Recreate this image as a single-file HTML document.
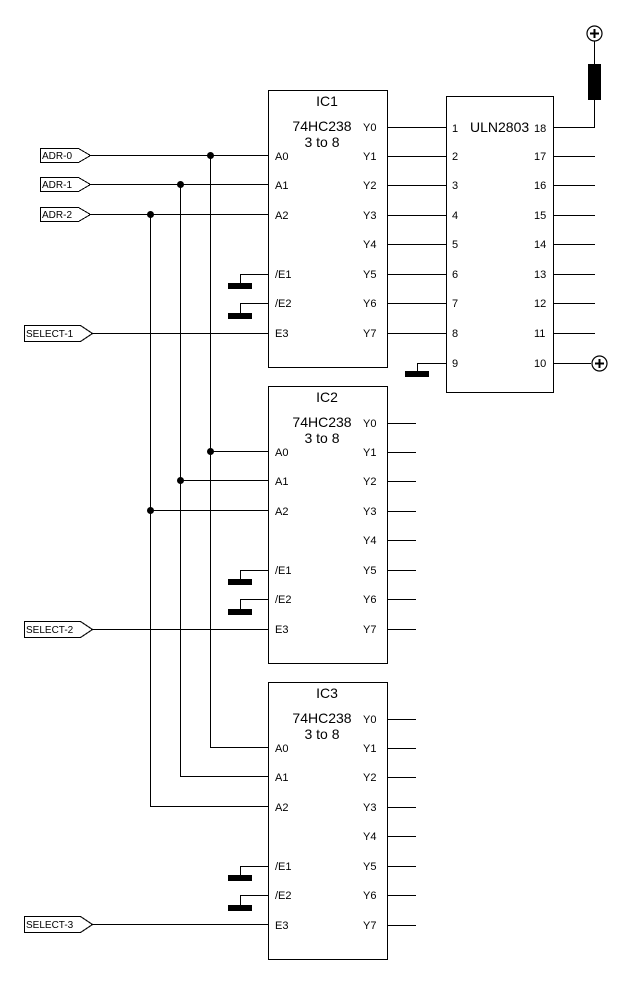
<!DOCTYPE html>
<html><head><meta charset="utf-8"><style>
html,body{margin:0;padding:0;background:#fff;}
svg{display:block;}
text{font-family:"Liberation Sans",Arial,sans-serif;fill:#000;}
</style></head><body>
<svg width="631" height="982" viewBox="0 0 631 982" xmlns="http://www.w3.org/2000/svg">
<g stroke="#000" stroke-width="1" fill="none" shape-rendering="crispEdges">
<!-- vertical bus lines -->
<line x1="210.5" y1="155" x2="210.5" y2="747.5"/>
<line x1="180.5" y1="185" x2="180.5" y2="776.5"/>
<line x1="150.5" y1="214" x2="150.5" y2="806.5"/>
<line x1="210" y1="747.5" x2="268" y2="747.5"/>
<line x1="180" y1="776.5" x2="268" y2="776.5"/>
<line x1="150" y1="806.5" x2="268" y2="806.5"/>
<!-- IC1 inputs -->
<line x1="90" y1="155.5" x2="268" y2="155.5"/>
<line x1="90" y1="184.5" x2="268" y2="184.5"/>
<line x1="90" y1="214.5" x2="268" y2="214.5"/>
<line x1="92" y1="333.5" x2="268" y2="333.5"/>
<!-- IC2 inputs -->
<line x1="210" y1="451.5" x2="268" y2="451.5"/>
<line x1="180" y1="480.5" x2="268" y2="480.5"/>
<line x1="150" y1="510.5" x2="268" y2="510.5"/>
<line x1="92" y1="629.5" x2="268" y2="629.5"/>
<!-- IC3 select -->
<line x1="92" y1="924.5" x2="268" y2="924.5"/>
</g>
<g fill="#000">
<circle cx="210.5" cy="155.5" r="3.5"/><circle cx="180.5" cy="184.5" r="3.5"/><circle cx="150.5" cy="214.5" r="3.5"/>
<circle cx="210.5" cy="451.5" r="3.5"/><circle cx="180.5" cy="480.5" r="3.5"/><circle cx="150.5" cy="510.5" r="3.5"/>
</g>
<!-- labels -->
<g stroke="#000" stroke-width="1" fill="#fff" shape-rendering="crispEdges">
<polygon points="40.5,148.5 78.5,148.5 90.5,155.5 78.5,162.5 40.5,162.5"/>
<polygon points="40.5,177.5 78.5,177.5 90.5,184.5 78.5,191.5 40.5,191.5"/>
<polygon points="40.5,207.5 78.5,207.5 90.5,214.5 78.5,221.5 40.5,221.5"/>
<polygon points="24.5,325.5 80.5,325.5 92.5,333.5 80.5,341.5 24.5,341.5"/>
<polygon points="24.5,621.5 80.5,621.5 92.5,629.5 80.5,637.5 24.5,637.5"/>
<polygon points="24.5,916.5 80.5,916.5 92.5,924.5 80.5,932.5 24.5,932.5"/>
</g>
<g font-size="10">
<text x="42" y="159">ADR-0</text>
<text x="42" y="188">ADR-1</text>
<text x="42" y="218">ADR-2</text>
<text x="26" y="337">SELECT-1</text>
<text x="26" y="633">SELECT-2</text>
<text x="26" y="928">SELECT-3</text>
</g>

<!-- IC template x3 -->
<g id="ic1">
<g stroke="#000" fill="none" shape-rendering="crispEdges">
<rect x="268.5" y="90.5" width="119" height="277"/>
<line x1="268" y1="274.5" x2="240.5" y2="274.5"/><line x1="240.5" y1="274" x2="240.5" y2="284"/>
<line x1="268" y1="303.5" x2="240.5" y2="303.5"/><line x1="240.5" y1="303" x2="240.5" y2="313"/>
<line x1="387" y1="127.5" x2="446" y2="127.5"/>
<line x1="387" y1="156.5" x2="446" y2="156.5"/>
<line x1="387" y1="185.5" x2="446" y2="185.5"/>
<line x1="387" y1="215.5" x2="446" y2="215.5"/>
<line x1="387" y1="244.5" x2="446" y2="244.5"/>
<line x1="387" y1="274.5" x2="446" y2="274.5"/>
<line x1="387" y1="303.5" x2="446" y2="303.5"/>
<line x1="387" y1="333.5" x2="446" y2="333.5"/>
</g>
<rect x="228" y="283" width="24" height="6" fill="#000"/>
<rect x="228" y="313" width="24" height="6" fill="#000"/>
<text x="327" y="106" font-size="14" text-anchor="middle">IC1</text>
<text x="322" y="131" font-size="14" text-anchor="middle">74HC238</text>
<text x="322" y="147" font-size="14" text-anchor="middle">3 to 8</text>
<g font-size="11">
<text x="275" y="160">A0</text><text x="275" y="189">A1</text><text x="275" y="219">A2</text>
<text x="275" y="278">/E1</text><text x="275" y="307">/E2</text><text x="275" y="337">E3</text>
<text x="363" y="131">Y0</text><text x="363" y="160">Y1</text><text x="363" y="189">Y2</text><text x="363" y="219">Y3</text>
<text x="363" y="248">Y4</text><text x="363" y="278">Y5</text><text x="363" y="307">Y6</text><text x="363" y="337">Y7</text>
</g>
</g>

<g transform="translate(0,296)">
<g stroke="#000" fill="none" shape-rendering="crispEdges">
<rect x="268.5" y="90.5" width="119" height="277"/>
<line x1="268" y1="274.5" x2="240.5" y2="274.5"/><line x1="240.5" y1="274" x2="240.5" y2="284"/>
<line x1="268" y1="303.5" x2="240.5" y2="303.5"/><line x1="240.5" y1="303" x2="240.5" y2="313"/>
<line x1="387" y1="127.5" x2="416" y2="127.5"/>
<line x1="387" y1="156.5" x2="416" y2="156.5"/>
<line x1="387" y1="185.5" x2="416" y2="185.5"/>
<line x1="387" y1="215.5" x2="416" y2="215.5"/>
<line x1="387" y1="244.5" x2="416" y2="244.5"/>
<line x1="387" y1="274.5" x2="416" y2="274.5"/>
<line x1="387" y1="303.5" x2="416" y2="303.5"/>
<line x1="387" y1="333.5" x2="416" y2="333.5"/>
</g>
<rect x="228" y="283" width="24" height="6" fill="#000"/>
<rect x="228" y="313" width="24" height="6" fill="#000"/>
<text x="327" y="106" font-size="14" text-anchor="middle">IC2</text>
<text x="322" y="131" font-size="14" text-anchor="middle">74HC238</text>
<text x="322" y="147" font-size="14" text-anchor="middle">3 to 8</text>
<g font-size="11">
<text x="275" y="160">A0</text><text x="275" y="189">A1</text><text x="275" y="219">A2</text>
<text x="275" y="278">/E1</text><text x="275" y="307">/E2</text><text x="275" y="337">E3</text>
<text x="363" y="131">Y0</text><text x="363" y="160">Y1</text><text x="363" y="189">Y2</text><text x="363" y="219">Y3</text>
<text x="363" y="248">Y4</text><text x="363" y="278">Y5</text><text x="363" y="307">Y6</text><text x="363" y="337">Y7</text>
</g>
</g>

<g transform="translate(0,592)">
<g stroke="#000" fill="none" shape-rendering="crispEdges">
<rect x="268.5" y="90.5" width="119" height="277"/>
<line x1="268" y1="274.5" x2="240.5" y2="274.5"/><line x1="240.5" y1="274" x2="240.5" y2="284"/>
<line x1="268" y1="303.5" x2="240.5" y2="303.5"/><line x1="240.5" y1="303" x2="240.5" y2="313"/>
<line x1="387" y1="127.5" x2="416" y2="127.5"/>
<line x1="387" y1="156.5" x2="416" y2="156.5"/>
<line x1="387" y1="185.5" x2="416" y2="185.5"/>
<line x1="387" y1="215.5" x2="416" y2="215.5"/>
<line x1="387" y1="244.5" x2="416" y2="244.5"/>
<line x1="387" y1="274.5" x2="416" y2="274.5"/>
<line x1="387" y1="303.5" x2="416" y2="303.5"/>
<line x1="387" y1="333.5" x2="416" y2="333.5"/>
</g>
<rect x="228" y="283" width="24" height="6" fill="#000"/>
<rect x="228" y="313" width="24" height="6" fill="#000"/>
<text x="327" y="106" font-size="14" text-anchor="middle">IC3</text>
<text x="322" y="131" font-size="14" text-anchor="middle">74HC238</text>
<text x="322" y="147" font-size="14" text-anchor="middle">3 to 8</text>
<g font-size="11">
<text x="275" y="160">A0</text><text x="275" y="189">A1</text><text x="275" y="219">A2</text>
<text x="275" y="278">/E1</text><text x="275" y="307">/E2</text><text x="275" y="337">E3</text>
<text x="363" y="131">Y0</text><text x="363" y="160">Y1</text><text x="363" y="189">Y2</text><text x="363" y="219">Y3</text>
<text x="363" y="248">Y4</text><text x="363" y="278">Y5</text><text x="363" y="307">Y6</text><text x="363" y="337">Y7</text>
</g>
</g>

<!-- ULN2803 -->
<g stroke="#000" fill="none" shape-rendering="crispEdges">
<rect x="446.5" y="96.5" width="107" height="296"/>
<line x1="553" y1="127.5" x2="594.5" y2="127.5"/>
<line x1="594.5" y1="40" x2="594.5" y2="128"/>
<line x1="553" y1="156.5" x2="595" y2="156.5"/>
<line x1="553" y1="185.5" x2="595" y2="185.5"/>
<line x1="553" y1="215.5" x2="595" y2="215.5"/>
<line x1="553" y1="244.5" x2="595" y2="244.5"/>
<line x1="553" y1="274.5" x2="595" y2="274.5"/>
<line x1="553" y1="303.5" x2="595" y2="303.5"/>
<line x1="553" y1="333.5" x2="595" y2="333.5"/>
<line x1="553" y1="363.5" x2="591" y2="363.5"/>
<line x1="446" y1="363.5" x2="417.5" y2="363.5"/>
<line x1="417.5" y1="363" x2="417.5" y2="372"/>
</g>
<rect x="405" y="371" width="24" height="6" fill="#000"/>
<rect x="588" y="64" width="13" height="36" fill="#000"/>
<g stroke="#000" fill="#fff" stroke-width="1.2">
<circle cx="594.5" cy="33.5" r="7.5"/>
<circle cx="599.5" cy="363.5" r="7.5"/>
</g>
<g stroke="#000" stroke-width="2">
<line x1="590" y1="33.5" x2="599" y2="33.5"/><line x1="594.5" y1="29" x2="594.5" y2="38"/>
<line x1="595" y1="363.5" x2="604" y2="363.5"/><line x1="599.5" y1="359" x2="599.5" y2="368"/>
</g>
<text x="470" y="132" font-size="14">ULN2803</text>
<g font-size="11">
<text x="452" y="132">1</text><text x="452" y="160">2</text><text x="452" y="189">3</text><text x="452" y="219">4</text>
<text x="452" y="248">5</text><text x="452" y="278">6</text><text x="452" y="307">7</text><text x="452" y="337">8</text><text x="452" y="367">9</text>
<text x="534" y="132">18</text><text x="534" y="160">17</text><text x="534" y="189">16</text><text x="534" y="219">15</text>
<text x="534" y="248">14</text><text x="534" y="278">13</text><text x="534" y="307">12</text><text x="534" y="337">11</text><text x="534" y="367">10</text>
</g>
</svg>
</body></html>
